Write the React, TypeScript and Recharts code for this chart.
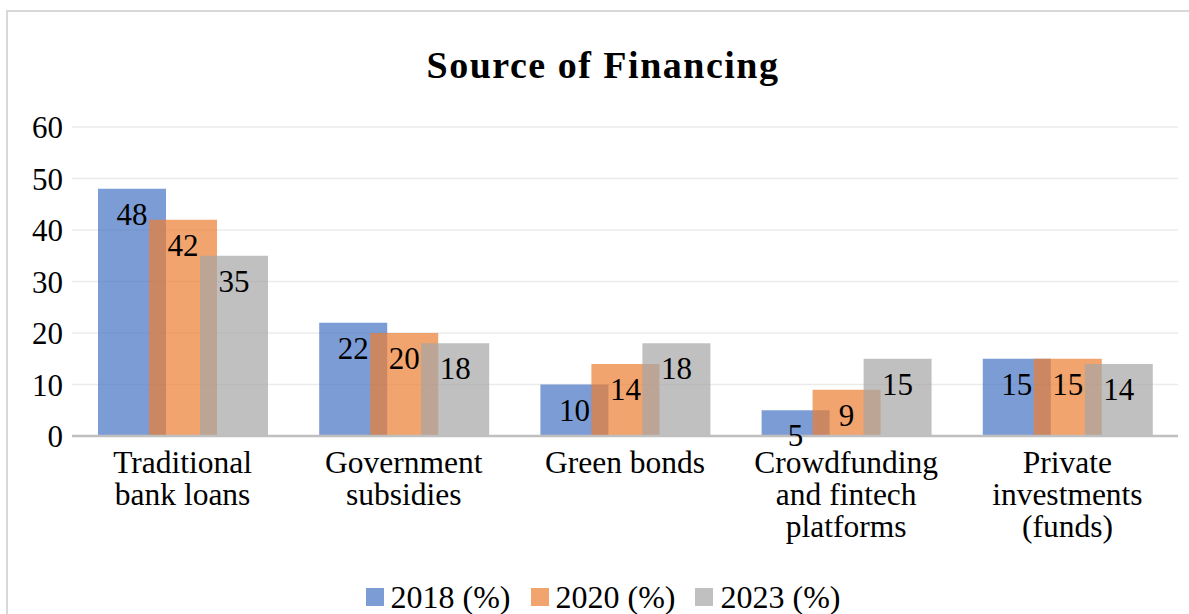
import React from 'react';
import { BarChart, Bar, XAxis, YAxis, CartesianGrid, Legend, LabelList } from 'recharts';

const FONT = '"Liberation Serif", "Times New Roman", Times, serif';

const categoryLines = [
  ['Traditional', 'bank loans'],
  ['Government', 'subsidies'],
  ['Green bonds'],
  ['Crowdfunding', 'and fintech', 'platforms'],
  ['Private', 'investments', '(funds)'],
];
const categories = categoryLines.map((l) => l.join(' '));
const values2018 = [48, 22, 10, 5, 15];
const values2020 = [42, 20, 14, 9, 15];
const values2023 = [35, 18, 18, 15, 14];
const yTicks = [0, 10, 20, 30, 40, 50, 60];
const seriesKeys = ['s2018', 's2020', 's2023'];
const seriesNames = ['2018 (%)', '2020 (%)', '2023 (%)'];
const seriesColors = ['#4472C4', '#ED7D31', '#A5A5A5'];

const data = categories.map((c, i) => ({
  category: c,
  s2018: values2018[i],
  s2020: values2020[i],
  s2023: values2023[i],
}));

const CategoryTick = (props: any) => {
  const { x, y, index } = props;
  const lines = categoryLines[index] || [];
  return (
    <text
      x={x}
      y={y}
      textAnchor="middle"
      fill="#000"
      style={{ fontSize: 31.5, fontFamily: FONT }}
    >
      {lines.map((ln, i) => (
        <tspan key={i} x={x} dy={i === 0 ? 22 : 32}>
          {ln}
        </tspan>
      ))}
    </text>
  );
};

const LegendContent = () => (
  <div
    style={{
      display: 'flex',
      justifyContent: 'center',
      alignItems: 'center',
      height: 34,
      fontSize: 32,
      lineHeight: '34px',
      fontFamily: FONT,
      color: '#000',
    }}
  >
    {seriesNames.map((n, i) => (
      <div key={n} style={{ display: 'flex', alignItems: 'center', marginLeft: i ? 20 : 0 }}>
        <span
          style={{
            width: 18,
            height: 18,
            background: seriesColors[i],
            opacity: 0.7,
            marginRight: 7,
            display: 'inline-block',
          }}
        />
        <span>{n}</span>
      </div>
    ))}
  </div>
);

export default function App() {
  return (
    <div
      style={{
        position: 'absolute',
        left: 0,
        top: 0,
        width: 1189,
        height: 614,
        overflow: 'hidden',
        background: '#fff',
        fontFamily: FONT,
      }}
    >
      <div
        style={{
          position: 'absolute',
          left: 6,
          top: 10,
          width: 1200,
          height: 700,
          border: '2px solid #D9D9D9',
        }}
      />
      <div style={{ position: 'absolute', left: 0, top: 0 }}>
        <BarChart
          width={1189}
          height={614}
          data={data}
          margin={{ top: 127, right: 11, left: 0, bottom: 0 }}
          barSize={68}
          barGap={-17}
          style={{ fontFamily: FONT }}
        >
          <CartesianGrid vertical={false} stroke="#EBEBEB" strokeWidth={1.5} />
          <XAxis
            dataKey="category"
            height={144}
            tickLine={false}
            tickSize={0}
            tickMargin={15}
            axisLine={{ stroke: '#BFBFBF', strokeWidth: 2.5 }}
            tick={<CategoryTick />}
            interval={0}
          />
          <YAxis
            width={72}
            domain={[0, 60]}
            ticks={yTicks}
            axisLine={false}
            tickLine={false}
            tickSize={0}
            tickMargin={9}
            tick={{ fill: '#000', fontSize: 31, fontFamily: FONT }}
          />
          <Legend
            verticalAlign="bottom"
            content={<LegendContent />}
            wrapperStyle={{ left: 0, width: 1206, bottom: 0 }}
          />
          {seriesKeys.map((k, i) => (
            <Bar
              key={k}
              dataKey={k}
              name={seriesNames[i]}
              fill={seriesColors[i]}
              fillOpacity={0.7}
              isAnimationActive={false}
            >
              <LabelList
                dataKey={k}
                position="insideTop"
                offset={14}
                fill="#000"
                fontSize={31}
                fontFamily={FONT}
              />
            </Bar>
          ))}
        </BarChart>
      </div>
      <div
        style={{
          position: 'absolute',
          left: 0,
          top: 43,
          width: 1206,
          textAlign: 'center',
          fontSize: 38,
          lineHeight: '44px',
          fontWeight: 'bold',
          letterSpacing: 1.5,
          fontFamily: FONT,
          color: '#000',
        }}
      >
        Source of Financing
      </div>
    </div>
  );
}
